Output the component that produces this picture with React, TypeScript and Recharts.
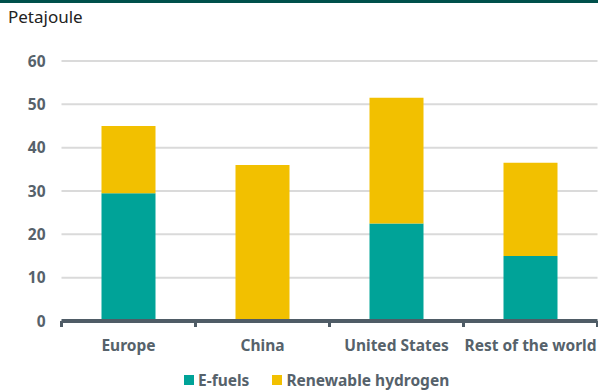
import { BarChart, Bar, XAxis, YAxis, CartesianGrid } from "recharts";

// Production by region, petajoule
const regions = ["Europe", "China", "United States", "Rest of the world"];
const eFuels = [29.5, 0, 22.5, 15];
const renewableHydrogen = [15.5, 36, 29, 21.5];
const yTicks = [0, 10, 20, 30, 40, 50, 60];

const TEAL = "#00a398";
const YELLOW = "#f2c000";
const AXIS = "#4f5c66";
const LABEL = "#56626b";
const FONT = "'Noto Sans', sans-serif";

const data = regions.map((region, i) => ({
  region,
  eFuels: eFuels[i],
  renewableHydrogen: renewableHydrogen[i],
}));

const TICK_GAP = 19;

// Category label plus the small marks on the band edges of the x axis
function RegionTick(props: any) {
  const { x, y, payload, index } = props;
  const half = payload?.offset ?? 67;
  const top = y - TICK_GAP;
  return (
    <g>
      <rect x={x - half - 1.5} y={top} width={3} height={6} fill={AXIS} />
      {index === regions.length - 1 && (
        <rect x={x + half - 1.5} y={top} width={3} height={6} fill={AXIS} />
      )}
      <text
        x={x}
        y={y}
        dy="0.71em"
        textAnchor="middle"
        fill={LABEL}
        fontSize={15.5}
        fontWeight={700}
        fontFamily={FONT}
      >
        {payload.value}
      </text>
    </g>
  );
}

const legendItems = [
  { label: "E-fuels", color: TEAL },
  { label: "Renewable hydrogen", color: YELLOW },
];

export default function App() {
  return (
    <div
      style={{
        position: "absolute",
        left: 0,
        top: 0,
        width: 598,
        height: 392,
        background: "#fff",
        fontFamily: FONT,
        overflow: "hidden",
      }}
    >
      <div style={{ position: "absolute", left: 0, top: 0, width: 598, height: 3, background: "#00504b" }} />
      <div
        style={{
          position: "absolute",
          left: 8,
          top: 6,
          fontSize: 17,
          color: "#222",
          lineHeight: "22px",
        }}
      >
        Petajoule
      </div>
      <BarChart
        width={598}
        height={392}
        data={data}
        margin={{ top: 61, right: 0.5, left: 0, bottom: 31 }}
        barSize={54}
      >
        <CartesianGrid vertical={false} stroke="#dadada" strokeWidth={2} />
        <YAxis
          domain={[0, 60]}
          ticks={yTicks}
          width={61.5}
          axisLine={false}
          tickLine={false}
          tickSize={0}
          tickMargin={16}
          tick={{ fill: LABEL, fontSize: 15.5, fontWeight: 700, fontFamily: FONT }}
        />
        <XAxis
          dataKey="region"
          height={40}
          interval={0}
          tickLine={false}
          tickSize={0}
          tickMargin={TICK_GAP}
          axisLine={{ stroke: AXIS, strokeWidth: 4 }}
          tick={<RegionTick />}
        />
        <Bar dataKey="eFuels" stackId="a" fill={TEAL} isAnimationActive={false} />
        <Bar dataKey="renewableHydrogen" stackId="a" fill={YELLOW} isAnimationActive={false} />
      </BarChart>
      <div
        style={{
          position: "absolute",
          left: 184,
          top: 370,
          display: "flex",
          alignItems: "center",
          gap: 23,
          fontSize: 15.5,
          fontWeight: 700,
          color: LABEL,
          lineHeight: "20px",
        }}
      >
        {legendItems.map((item) => (
          <div key={item.label} style={{ display: "flex", alignItems: "center", gap: 4 }}>
            <span style={{ width: 10, height: 10, background: item.color, display: "inline-block" }} />
            <span>{item.label}</span>
          </div>
        ))}
      </div>
    </div>
  );
}
